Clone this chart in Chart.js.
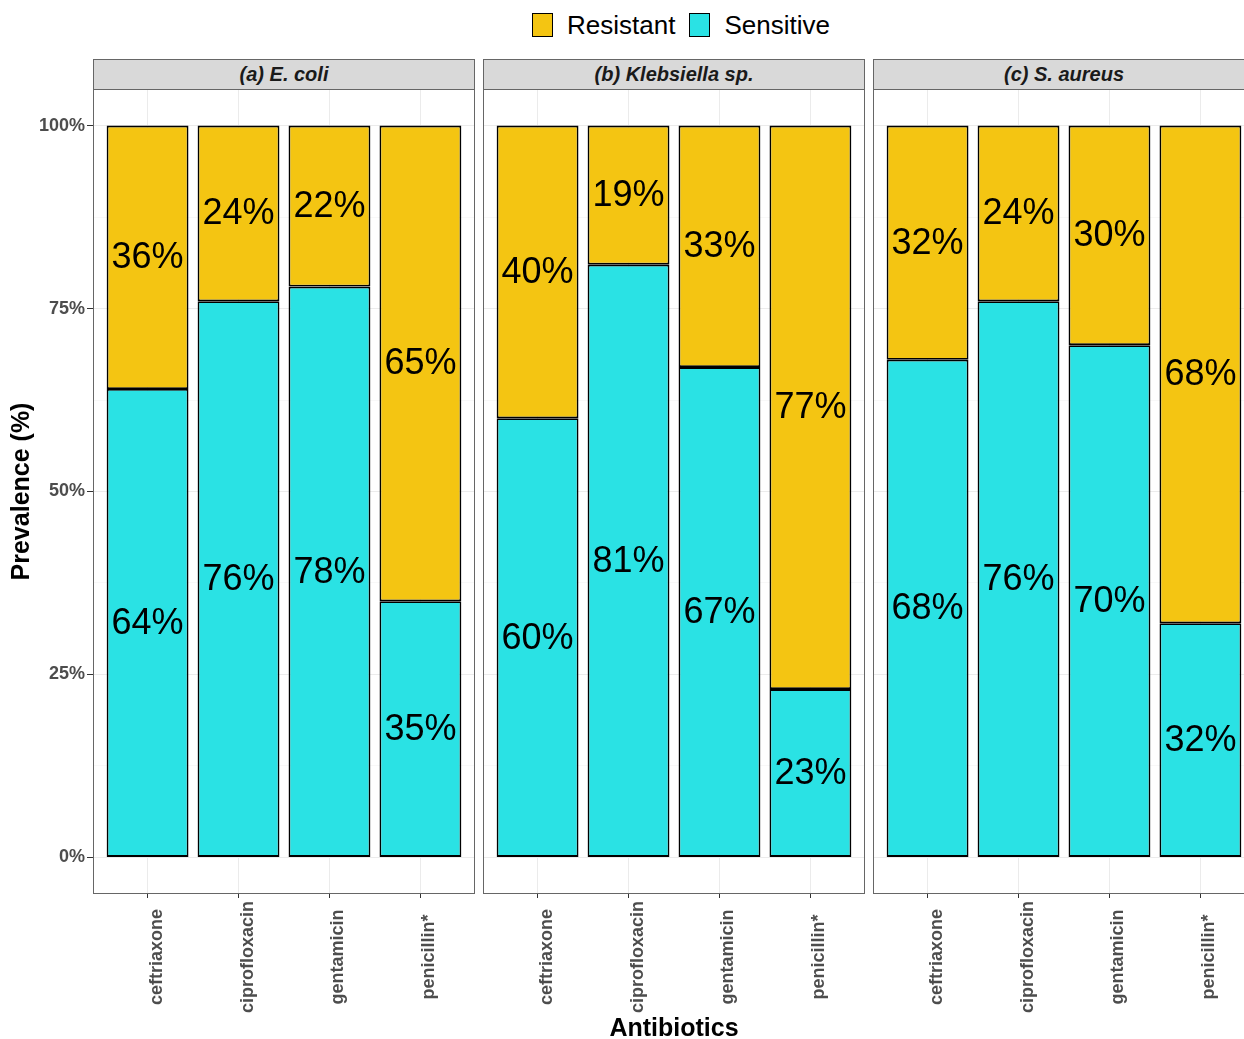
<!DOCTYPE html>
<html>
<head>
<meta charset="utf-8">
<script src="https://cdn.jsdelivr.net/npm/chart.js@4.4.1/dist/chart.umd.min.js"></script>
<style>
  html, body { margin: 0; padding: 0; background: #fff; overflow: hidden; width: 1244px; height: 1039px; }
  body { position: relative; font-family: "Liberation Sans", Arial, sans-serif; }
  canvas { position: absolute; top: 89px; }
  .strip {
    position: absolute; top: 59px; height: 31px; width: 382px; box-sizing: border-box;
    background: #D9D9D9; border: 1px solid #666; color: #1A1A1A;
    font-size: 20px; font-weight: bold; font-style: italic; text-align: center; line-height: 29px;
  }
  #legend { position: absolute; left: 532px; top: 12px; display: flex; align-items: center; height: 26px; font-size: 26px; color: #000; }
  #legend .key { width: 21px; height: 24px; box-sizing: border-box; border: 1.5px solid #000; }
  #legend .lab { margin: 0 14px 0 14px; }
</style>
</head>
<body>
<div id="legend">
  <span class="key" style="background:#F4C512"></span><span class="lab">Resistant</span>
  <span class="key" style="background:#2AE2E4"></span><span class="lab" style="margin-right:0">Sensitive</span>
</div>
<div class="strip" style="left:93px">(a) E. coli</div>
<div class="strip" style="left:483px">(b) Klebsiella sp.</div>
<div class="strip" style="left:873px">(c) S. aureus</div>
<canvas id="panelA" width="479" height="950" style="left:0px"></canvas>
<canvas id="panelB" width="390" height="950" style="left:479px"></canvas>
<canvas id="panelC" width="390" height="950" style="left:869px"></canvas>
<script>
// Antibiotics tested and share of isolates (%) per organism
const antibiotics = ["ceftriaxone", "ciprofloxacin", "gentamicin", "penicillin*"];
const organisms = ["(a) E. coli", "(b) Klebsiella sp.", "(c) S. aureus"];

const resistantEcoli = [36, 24, 22, 65];
const sensitiveEcoli = [64, 76, 78, 35];
const resistantKlebsiella = [40, 19, 33, 77];
const sensitiveKlebsiella = [60, 81, 67, 23];
const resistantSaureus = [32, 24, 30, 68];
const sensitiveSaureus = [68, 76, 70, 32];

const yTicks = [0, 25, 50, 75, 100];

const RES_COLOR = "#F4C512";
const SEN_COLOR = "#2AE2E4";
const FONT = '"Liberation Sans", Arial, sans-serif';
Chart.defaults.font.family = FONT;

// major ticks plus the minor lines half way between them
const gridTicks = [];
yTicks.forEach((v, i) => {
  gridTicks.push(v);
  if (i < yTicks.length - 1) gridTicks.push((v + yTicks[i + 1]) / 2);
});
const isMajor = v => yTicks.includes(v);

const toPoints = arr => arr.map((v, i) => ({ x: i + 1, y: v }));

// value labels, panel frame and the rotated antibiotic names
const facetPlugin = {
  id: "facet",
  afterDatasetsDraw(chart) {
    const ctx = chart.ctx;
    ctx.save();
    ctx.font = "36px " + FONT;
    ctx.fillStyle = "#000";
    ctx.textAlign = "center";
    ctx.textBaseline = "middle";
    chart.data.datasets.forEach((ds, di) => {
      chart.getDatasetMeta(di).data.forEach((bar, i) => {
        ctx.fillText(ds.data[i].y + "%", bar.x, (bar.y + bar.base) / 2 + 1);
      });
    });
    ctx.restore();
  },
  afterDraw(chart) {
    const { ctx, chartArea: a } = chart;
    const x = chart.scales.x;
    ctx.save();
    ctx.strokeStyle = "#666";
    ctx.lineWidth = 1;
    ctx.strokeRect(a.left + 0.5, a.top + 0.5, a.right - a.left - 1, a.bottom - a.top - 1);
    ctx.font = "bold 18px " + FONT;
    ctx.fillStyle = "#4D4D4D";
    ctx.textAlign = "center";
    ctx.textBaseline = "alphabetic";
    antibiotics.forEach((name, i) => {
      const px = x.getPixelForValue(i + 1);
      ctx.save();
      ctx.translate(px + 14, a.bottom + 63);
      ctx.rotate(-Math.PI / 2);
      ctx.fillText(name, 0, 0);
      ctx.restore();
    });
    ctx.restore();
  }
};

function makePanel(id, resistant, sensitive, opts) {
  return new Chart(document.getElementById(id), {
    type: "bar",
    data: {
      datasets: [
        { label: "Sensitive", data: toPoints(sensitive), backgroundColor: SEN_COLOR },
        { label: "Resistant", data: toPoints(resistant), backgroundColor: RES_COLOR }
      ]
    },
    options: {
      responsive: false,
      animation: false,
      layout: { padding: { left: opts.padLeft, right: 4, top: 0, bottom: 0 } },
      datasets: {
        bar: {
          categoryPercentage: 1,
          barPercentage: 0.9,
          borderColor: "#000",
          borderWidth: 1.8,
          borderSkipped: false
        }
      },
      plugins: { legend: { display: false }, tooltip: { enabled: false } },
      scales: {
        x: {
          type: "linear",
          stacked: true,
          offset: false,
          min: 0.4,
          max: 4.6,
          afterBuildTicks: s => { s.ticks = antibiotics.map((_, i) => ({ value: i + 1 })); },
          afterFit: s => { s.height = 145; s.paddingLeft = 0; s.paddingRight = 0; },
          ticks: { display: false },
          border: { display: false },
          grid: { offset: false, color: "#EBEBEB", lineWidth: 1, drawTicks: true, tickLength: 4, tickColor: "#333" },
          title: {
            display: opts.xTitle,
            text: "Antibiotics",
            color: "#000",
            font: { size: 25, weight: "bold", lineHeight: 0.8 },
            padding: 0
          }
        },
        y: {
          stacked: true,
          min: -5,
          max: 105,
          afterBuildTicks: s => { s.ticks = gridTicks.map(v => ({ value: v })); },
          afterFit: s => { s.width = opts.yAxis ? 93 : 0; s.paddingTop = 0; s.paddingBottom = 0; },
          border: { display: false },
          grid: {
            color: c => isMajor(c.tick.value) ? "#EBEBEB" : "#F3F3F3",
            lineWidth: c => isMajor(c.tick.value) ? 1 : 0.6,
            drawTicks: opts.yAxis,
            tickLength: 6,
            tickColor: c => isMajor(c.tick.value) ? "#333" : "rgba(0,0,0,0)"
          },
          ticks: {
            display: opts.yAxis,
            padding: 2,
            color: "#4D4D4D",
            font: { size: 18, weight: "bold" },
            callback: v => isMajor(v) ? v + "%" : ""
          },
          title: {
            display: opts.yAxis,
            text: "Prevalence (%)",
            color: "#000",
            font: { size: 25, weight: "bold", lineHeight: 1 },
            padding: { top: 10, bottom: 0 }
          }
        }
      }
    },
    plugins: [facetPlugin]
  });
}

makePanel("panelA", resistantEcoli, sensitiveEcoli, { padLeft: 0, yAxis: true, xTitle: false });
makePanel("panelB", resistantKlebsiella, sensitiveKlebsiella, { padLeft: 4, yAxis: false, xTitle: true });
makePanel("panelC", resistantSaureus, sensitiveSaureus, { padLeft: 4, yAxis: false, xTitle: false });
</script>
</body>
</html>
